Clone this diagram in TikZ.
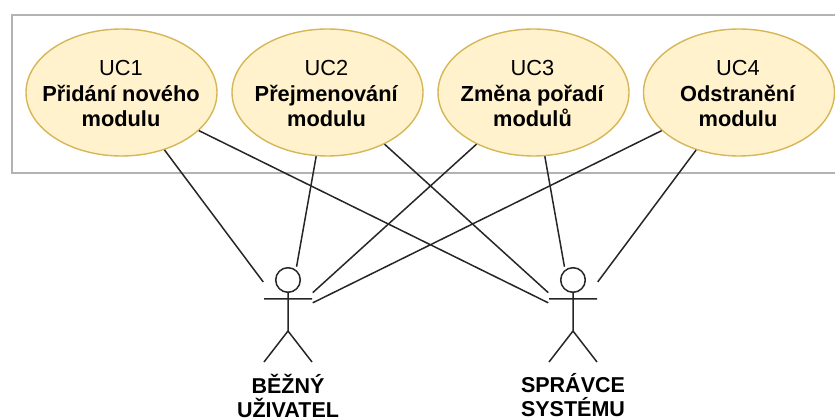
\documentclass[tikz,border=0pt]{standalone}
\usepackage{fontspec}
\setmainfont{Liberation Sans}
\usetikzlibrary{shapes.geometric}
\definecolor{ucfill}{HTML}{FFF2CC}
\definecolor{ucdraw}{HTML}{D6B656}
\definecolor{boxdraw}{HTML}{B3B3B3}
\begin{document}
\begin{tikzpicture}[x=1pt,y=-1pt,line width=1.5pt]
    \tikzstyle{usecase}=[ellipse,fill=ucfill,draw=ucdraw,line width=1.4pt,minimum width=191pt,minimum height=127pt,inner sep=0pt]
    \tikzstyle{uctext}=[align=center,inner sep=0pt,font=\fontsize{21.8}{25.3}\selectfont]
    \tikzstyle{actor}=[rectangle,minimum width=48pt,minimum height=95pt,inner sep=0pt]
    \tikzstyle{actortext}=[align=center,inner sep=0pt,anchor=north,font=\fontsize{21.5}{24}\selectfont\bfseries]
    \tikzset{stickman/.pic={
        \draw[line width=1.5pt,draw=black!85] (0,-35) circle (12.3);
        \draw[line width=1.5pt,draw=black!85] (0,-23) -- (0,16) (-24,-16) -- (24,-16) (-24,47) -- (0,16) -- (24,47);
    }}

    \useasboundingbox (0,0) rectangle (835,419);
    \node[draw=boxdraw,line width=1.8pt,minimum width=836pt,minimum height=158pt,inner sep=0pt,anchor=north west] (system) at (11,14) {};

    \node[usecase] (uc1) at (121.5,92.5) {};
    \node[usecase] (uc2) at (327.5,92.5) {};
    \node[usecase] (uc3) at (533.5,92.5) {};
    \node[usecase] (uc4) at (739,92.5) {};

    \node[uctext] (uc1text) at (121,93.5) {UC1\\\textbf{Přidání nového}\\\textbf{modulu}};
    \node[uctext] (uc2text) at (326.5,93.5) {UC2\\\textbf{Přejmenování}\\\textbf{modulu}};
    \node[uctext] (uc3text) at (532.5,93.5) {UC3\\\textbf{Změna pořadí}\\\textbf{modulů}};
    \node[uctext] (uc4text) at (738,93.5) {UC4\\\textbf{Odstranění}\\\textbf{modulu}};

    \node[actor] (user) at (288,315) {};
    \node[actor] (admin) at (573,315) {};
    \pic at (user) {stickman};
    \pic at (admin) {stickman};

    \node[actortext] (usertext) at (288,373) {BĚŽNÝ\\UŽIVATEL};
    \node[actortext] (admintext) at (573,373) {SPRÁVCE\\SYSTÉMU};

    \foreach \uc in {uc1,uc2,uc3,uc4} {
        \draw[draw=black!85] (\uc) -- (user);
        \draw[draw=black!85] (\uc) -- (admin);
    }
\end{tikzpicture}
\end{document}
